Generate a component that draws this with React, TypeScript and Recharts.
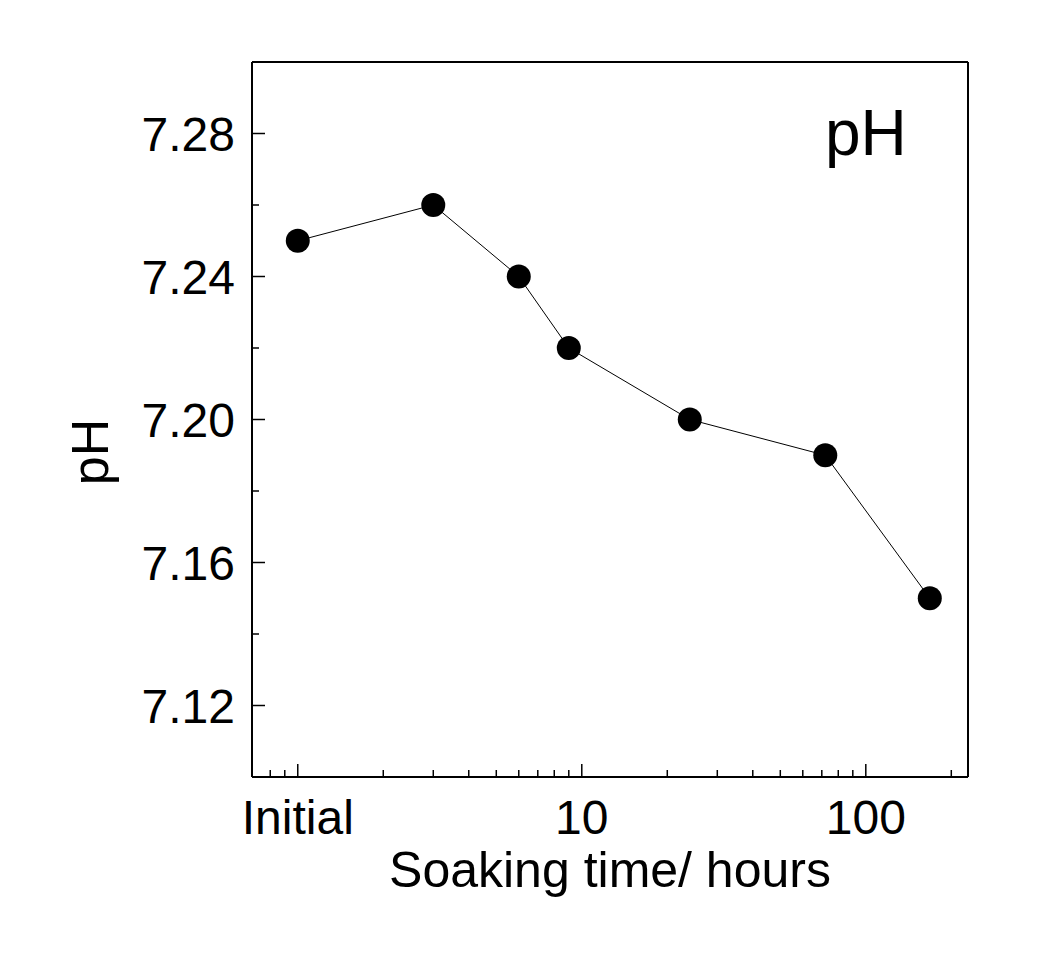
import { LineChart, Line, XAxis, YAxis, Label } from "recharts";

const hours = [1, 3, 6, 9, 24, 72, 168];
const phValues = [7.25, 7.26, 7.24, 7.22, 7.2, 7.19, 7.15];

const xMajor = [1, 10, 100];
const xMinor = [0.8, 0.9, 2, 3, 4, 5, 6, 7, 8, 9, 20, 30, 40, 50, 60, 70, 80, 90, 200];
const xLabels: Record<number, string> = { 1: "Initial", 10: "10", 100: "100" };

const yMajor = [7.12, 7.16, 7.2, 7.24, 7.28];
const yMinor = [7.14, 7.18, 7.22, 7.26];

const data = hours.map((h, i) => ({ hours: h, ph: phValues[i] }));

const FONT = "'Liberation Sans', Arial, sans-serif";

function XTick(props: any) {
  const { x, y, payload } = props;
  const major = xMajor.includes(payload.value);
  return (
    <g>
      <line x1={x} y1={y} x2={x} y2={y - (major ? 13 : 7)} stroke="#000" strokeWidth={1.5} />
      {major && (
        <text x={x} y={y + 57} textAnchor="middle" fontSize={48} fontFamily={FONT} fill="#000">
          {xLabels[payload.value]}
        </text>
      )}
    </g>
  );
}

function YTick(props: any) {
  const { x, y, payload } = props;
  const major = yMajor.some((v) => Math.abs(v - payload.value) < 1e-6);
  return (
    <g>
      <line x1={x} y1={y} x2={x + (major ? 13 : 7)} y2={y} stroke="#000" strokeWidth={1.5} />
      {major && (
        <text x={x - 17} y={y + 17} textAnchor="end" fontSize={48} fontFamily={FONT} fill="#000">
          {payload.value.toFixed(2)}
        </text>
      )}
    </g>
  );
}

export default function App() {
  return (
    <div style={{ position: "absolute", left: 0, top: 0, width: 1062, height: 959, background: "#fff" }}>
      <LineChart width={1062} height={959} data={data} margin={{ top: 61, right: 93, bottom: 0, left: 0 }}>
        <XAxis
          dataKey="hours"
          type="number"
          scale="log"
          domain={[0.69, 229]}
          allowDataOverflow
          ticks={[...xMajor, ...xMinor].sort((a, b) => a - b)}
          interval={0}
          tick={<XTick />}
          tickLine={false}
          tickSize={0}
          tickMargin={0}
          height={182}
          axisLine={{ stroke: "#000", strokeWidth: 2 }}
        >
          <Label
            content={({ viewBox }: any) => (
              <text
                x={viewBox.x + viewBox.width / 2}
                y={viewBox.y + 110}
                textAnchor="middle"
                fontSize={50}
                fontFamily={FONT}
                fill="#000"
              >
                Soaking time/ hours
              </text>
            )}
          />
        </XAxis>
        <XAxis
          xAxisId="top"
          dataKey="hours"
          orientation="top"
          type="number"
          scale="log"
          domain={[0.69, 229]}
          allowDataOverflow
          height={1}
          tick={false}
          tickLine={false}
          axisLine={{ stroke: "#000", strokeWidth: 2 }}
        >
          <Label
            content={({ viewBox }: any) => (
              <text
                x={viewBox.x + viewBox.width - 143}
                y={viewBox.y + viewBox.height + 93}
                fontSize={64}
                fontFamily={FONT}
                fill="#000"
              >
                pH
              </text>
            )}
          />
        </XAxis>
        <YAxis
          type="number"
          domain={[7.1, 7.3]}
          allowDataOverflow
          ticks={[...yMajor, ...yMinor].sort((a, b) => a - b)}
          interval={0}
          tick={<YTick />}
          tickLine={false}
          tickSize={0}
          tickMargin={0}
          width={252}
          axisLine={{ stroke: "#000", strokeWidth: 2 }}
        >
          <Label
            content={() => (
              <text
                x={108}
                y={452}
                transform="rotate(-90, 108, 452)"
                textAnchor="middle"
                fontSize={52}
                fontFamily={FONT}
                fill="#000"
              >
                pH
              </text>
            )}
          />
        </YAxis>
        <YAxis
          yAxisId="right"
          orientation="right"
          type="number"
          domain={[7.1, 7.3]}
          allowDataOverflow
          width={1}
          tick={false}
          tickLine={false}
          axisLine={{ stroke: "#000", strokeWidth: 2 }}
        />
        <Line
          xAxisId={0}
          yAxisId={0}
          dataKey="ph"
          stroke="#000"
          strokeWidth={1}
          dot={{ r: 12, fill: "#000", stroke: "#000", strokeWidth: 0 }}
          activeDot={false}
          isAnimationActive={false}
        />
        <Line
          xAxisId="top"
          yAxisId="right"
          dataKey="ph"
          stroke="none"
          dot={false}
          activeDot={false}
          legendType="none"
          isAnimationActive={false}
        />
      </LineChart>
    </div>
  );
}
